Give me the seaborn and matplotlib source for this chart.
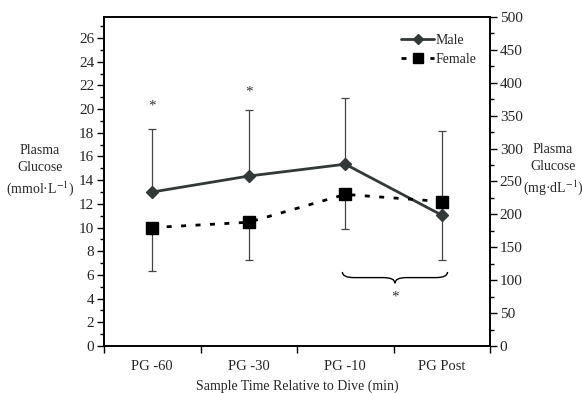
import matplotlib
matplotlib.use("Agg")
import matplotlib.pyplot as plt
import matplotlib.patches as mpatches
from matplotlib.path import Path
import seaborn as sns
import pandas as pd
import numpy as np
from matplotlib.ticker import MultipleLocator, FixedLocator, NullFormatter

categories = ["PG -60", "PG -30", "PG -10", "PG Post"]
male = [13.0, 14.35, 15.35, 11.05]
female = [10.0, 10.45, 12.8, 12.2]
male_err_up = [5.3, 5.55, 5.55, 7.1]
female_err_down = [3.7, 3.2, 2.9, 4.95]

sns.set_theme(style="white")
plt.rcParams['font.family'] = ['Liberation Serif', 'DejaVu Serif']
plt.rcParams['font.size'] = 10
plt.rcParams['mathtext.fontset'] = 'stix'

fig = plt.figure(figsize=(5.82, 3.93), dpi=100)
ax = fig.add_axes([104/582, 47/393, 386/582, 329/393])

x = np.arange(len(categories))
df = pd.DataFrame({
    "pos": np.concatenate([x, x]),
    "glucose": male + female,
    "Sex": ["Male"] * 4 + ["Female"] * 4,
})

# error bars (one-sided)
ax.errorbar(x, male, yerr=[np.zeros(4), male_err_up], fmt="none",
            ecolor="#444444", elinewidth=0.9, capsize=3, capthick=0.9, zorder=1)
ax.errorbar(x, female, yerr=[female_err_down, np.zeros(4)], fmt="none",
            ecolor="#444444", elinewidth=0.9, capsize=3, capthick=0.9, zorder=1)

sns.lineplot(data=df, x="pos", y="glucose", hue="Sex", style="Sex",
             palette={"Male": "#333838", "Female": "#000000"},
             dashes={"Male": "", "Female": (1.8, 3.4)},
             linewidth=2.0, ax=ax, legend=False, zorder=3)
# markers
ax.plot(x, male, linestyle="none", marker="D", markersize=6.5, color="#333838", zorder=4)
ax.plot(x, female, linestyle="none", marker="s", markersize=8, color="#000000", zorder=4)

ax.set_xlim(-0.5, 3.5)
ax.set_ylim(0, 500/18.0)
ax.xaxis.set_major_locator(FixedLocator([-0.5, 0.5, 1.5, 2.5, 3.5]))
ax.xaxis.set_major_formatter(NullFormatter())
ax.xaxis.set_minor_locator(FixedLocator(x))
ax.set_xticklabels(categories, minor=True)
ax.tick_params(axis="x", which="major", direction="out", length=5, width=1, bottom=True, color="black")
ax.tick_params(axis="x", which="minor", length=0, pad=10, labelsize=10.5)

ax.yaxis.set_major_locator(MultipleLocator(2))
ax.yaxis.set_minor_locator(MultipleLocator(1))
ax.tick_params(axis="y", which="major", direction="out", length=5, width=1, left=True, color="black", labelsize=11, pad=2)
ax.tick_params(axis="y", which="minor", direction="out", length=3, width=1, left=True, color="black")

for s in ax.spines.values():
    s.set_color("black")
    s.set_linewidth(1.2)

ax2 = ax.twinx()
ax2.set_ylim(0, 500)
ax2.yaxis.set_major_locator(MultipleLocator(50))
ax2.yaxis.set_minor_locator(MultipleLocator(25))
ax2.tick_params(axis="y", which="major", direction="out", length=5, width=1, right=True, color="black", labelsize=11, pad=2)
ax2.tick_params(axis="y", which="minor", direction="out", length=3, width=1, right=True, color="black")
ax2.grid(False)
ax.grid(False)
for s in ax2.spines.values():
    s.set_color("black")
    s.set_linewidth(1.2)

ax.set_xlabel("")
ax.set_ylabel("")
fig.text(40/582, 1 - 171/393, "Plasma\nGlucose\n(mmol·L$^{-1}$)", ha="center", va="center",
         fontsize=10, linespacing=1.35)
fig.text(553/582, 1 - 170/393, "Plasma\nGlucose\n(mg·dL$^{-1}$)", ha="center", va="center",
         fontsize=10, linespacing=1.35)
fig.text(297/582, 1 - 386/393, "Sample Time Relative to Dive (min)", ha="center", va="center", fontsize=10)

# significance stars
ax.text(0, 20.3, "*", ha="center", va="center", fontsize=11, color="#333333")
ax.text(1, 21.45, "*", ha="center", va="center", fontsize=11, color="#333333")
ax.text(2.515, 4.1, "*", ha="center", va="center", fontsize=11, color="#333333")

# curly brace
def brace(ax, x0, x1, ytop, depth):
    xm = (x0 + x1) / 2
    h = depth / 2
    c = 0.12
    path = Path([
        (x0, ytop), (x0, ytop - h), (x0 + c, ytop - h), (xm - c, ytop - h),
        (xm, ytop - h), (xm, ytop - depth),
        (xm, ytop - h), (xm + c, ytop - h),
        (x1 - c, ytop - h), (x1, ytop - h), (x1, ytop),
    ], [Path.MOVETO, Path.CURVE3, Path.CURVE3, Path.LINETO, Path.CURVE3, Path.CURVE3,
        Path.CURVE3, Path.CURVE3, Path.LINETO, Path.CURVE3, Path.CURVE3])
    ax.add_patch(mpatches.PathPatch(path, fill=False, color="black", lw=1.0))

brace(ax, 1.97, 3.06, 6.25, 0.95)

fig.legend(handles=[
    plt.Line2D([], [], color="#333838", lw=2, marker="D", markersize=5.5),
    plt.Line2D([], [], color="black", lw=2, linestyle=(0, (1.8, 3.4)), marker="s", markersize=7),
], labels=["Male", "Female"], loc="upper left", bbox_to_anchor=(394/582, 1 - 27/393),
    frameon=False, fontsize=10, handlelength=2.4, handletextpad=0.1, labelspacing=0.45, borderpad=0)

fig.savefig("out.png", dpi=100)
